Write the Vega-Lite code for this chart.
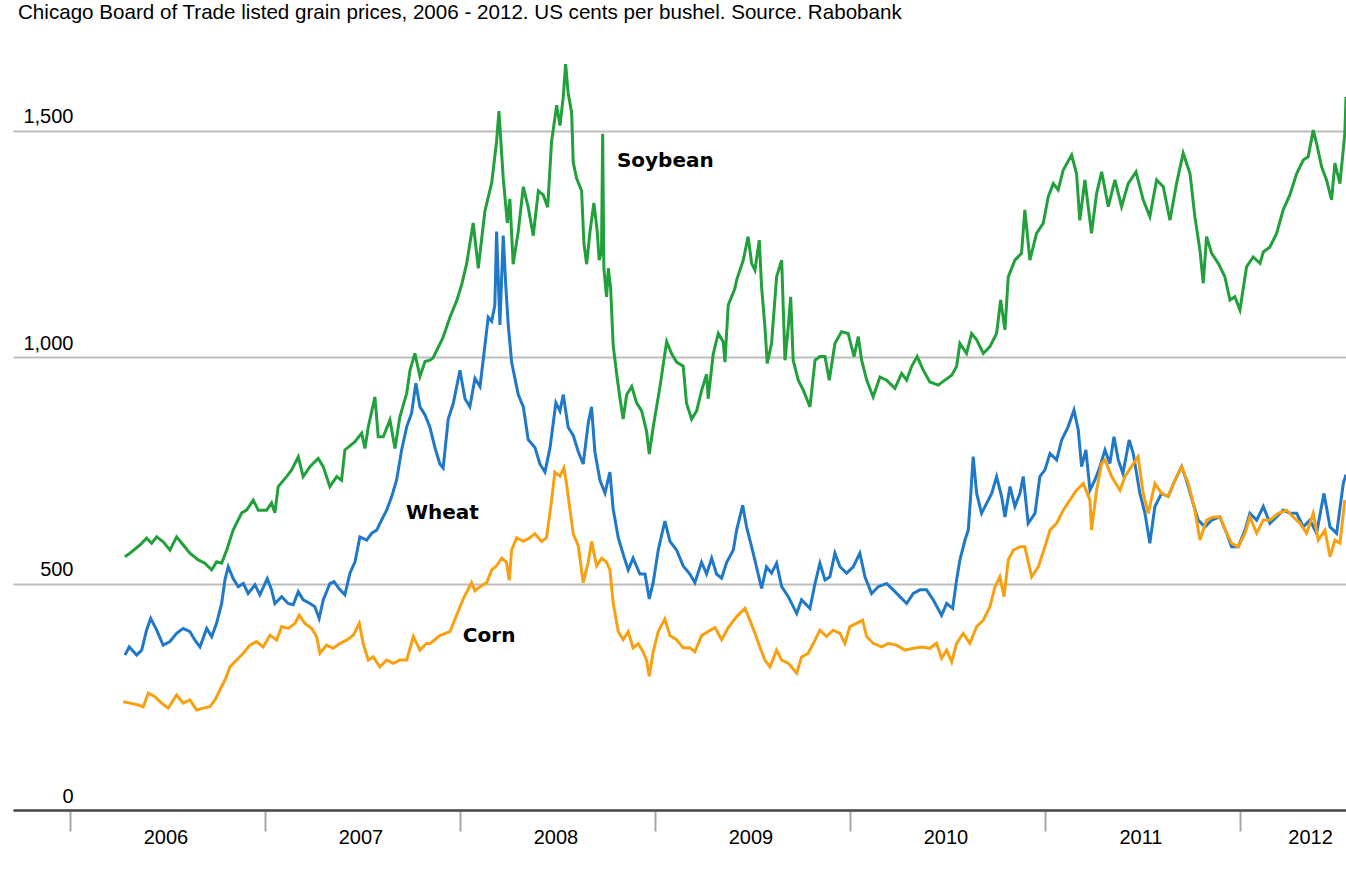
{
  "$schema": "https://vega.github.io/schema/vega-lite/v6.json",
  "width": 1333,
  "height": 770,
  "autosize": "none",
  "padding": {"left": 13, "top": 40, "right": 0, "bottom": 82},
  "background": "white",
  "config": {
    "view": {"stroke": null},
    "font": "Liberation Sans",
    "axis": {"labelFont": "Liberation Sans", "labelFontSize": 20, "labelColor": "#000000"}
  },
  "title": {
    "text": "Chicago Board of Trade listed grain prices, 2006 - 2012. US cents per bushel. Source. Rabobank",
    "anchor": "start",
    "frame": "group",
    "orient": "top",
    "offset": 0,
    "dx": 5,
    "baseline": "alphabetic",
    "font": "Liberation Sans",
    "fontSize": 20.6,
    "fontWeight": "normal",
    "color": "#000000"
  },
  "datasets": {
    "grain": [
      {"s":"Soybean","t":2006.282,"v":559},{"s":"Soybean","t":2006.308,"v":567},{"s":"Soybean","t":2006.359,"v":585},{"s":"Soybean","t":2006.393,"v":600},{"s":"Soybean","t":2006.419,"v":589},{"s":"Soybean","t":2006.445,"v":603},{"s":"Soybean","t":2006.478,"v":592},{"s":"Soybean","t":2006.513,"v":574},{"s":"Soybean","t":2006.547,"v":603},{"s":"Soybean","t":2006.581,"v":585},{"s":"Soybean","t":2006.615,"v":567},{"s":"Soybean","t":2006.658,"v":552},{"s":"Soybean","t":2006.692,"v":545},{"s":"Soybean","t":2006.727,"v":530},{"s":"Soybean","t":2006.752,"v":548},{"s":"Soybean","t":2006.778,"v":545},{"s":"Soybean","t":2006.804,"v":574},{"s":"Soybean","t":2006.837,"v":618},{"s":"Soybean","t":2006.881,"v":656},{"s":"Soybean","t":2006.906,"v":662},{"s":"Soybean","t":2006.94,"v":684},{"s":"Soybean","t":2006.966,"v":662},{"s":"Soybean","t":2007.009,"v":662},{"s":"Soybean","t":2007.034,"v":678},{"s":"Soybean","t":2007.051,"v":656},{"s":"Soybean","t":2007.068,"v":714},{"s":"Soybean","t":2007.111,"v":736},{"s":"Soybean","t":2007.137,"v":751},{"s":"Soybean","t":2007.171,"v":780},{"s":"Soybean","t":2007.196,"v":736},{"s":"Soybean","t":2007.231,"v":758},{"s":"Soybean","t":2007.273,"v":776},{"s":"Soybean","t":2007.299,"v":758},{"s":"Soybean","t":2007.333,"v":714},{"s":"Soybean","t":2007.368,"v":736},{"s":"Soybean","t":2007.393,"v":728},{"s":"Soybean","t":2007.41,"v":795},{"s":"Soybean","t":2007.462,"v":813},{"s":"Soybean","t":2007.496,"v":832},{"s":"Soybean","t":2007.513,"v":798},{"s":"Soybean","t":2007.53,"v":846},{"s":"Soybean","t":2007.564,"v":912},{"s":"Soybean","t":2007.581,"v":824},{"s":"Soybean","t":2007.607,"v":824},{"s":"Soybean","t":2007.641,"v":861},{"s":"Soybean","t":2007.667,"v":798},{"s":"Soybean","t":2007.692,"v":868},{"s":"Soybean","t":2007.727,"v":920},{"s":"Soybean","t":2007.744,"v":971},{"s":"Soybean","t":2007.769,"v":1008},{"s":"Soybean","t":2007.795,"v":957},{"s":"Soybean","t":2007.821,"v":990},{"s":"Soybean","t":2007.846,"v":993},{"s":"Soybean","t":2007.862,"v":998},{"s":"Soybean","t":2007.913,"v":1043},{"s":"Soybean","t":2007.949,"v":1088},{"s":"Soybean","t":2007.983,"v":1124},{"s":"Soybean","t":2008.009,"v":1160},{"s":"Soybean","t":2008.034,"v":1205},{"s":"Soybean","t":2008.068,"v":1296},{"s":"Soybean","t":2008.094,"v":1196},{"s":"Soybean","t":2008.111,"v":1259},{"s":"Soybean","t":2008.128,"v":1322},{"s":"Soybean","t":2008.163,"v":1385},{"s":"Soybean","t":2008.188,"v":1476},{"s":"Soybean","t":2008.2,"v":1543},{"s":"Soybean","t":2008.222,"v":1395},{"s":"Soybean","t":2008.243,"v":1296},{"s":"Soybean","t":2008.256,"v":1349},{"s":"Soybean","t":2008.273,"v":1205},{"s":"Soybean","t":2008.299,"v":1277},{"s":"Soybean","t":2008.325,"v":1376},{"s":"Soybean","t":2008.35,"v":1331},{"s":"Soybean","t":2008.376,"v":1268},{"s":"Soybean","t":2008.402,"v":1367},{"s":"Soybean","t":2008.427,"v":1358},{"s":"Soybean","t":2008.45,"v":1331},{"s":"Soybean","t":2008.47,"v":1476},{"s":"Soybean","t":2008.496,"v":1556},{"s":"Soybean","t":2008.513,"v":1511},{"s":"Soybean","t":2008.53,"v":1575},{"s":"Soybean","t":2008.542,"v":1647},{"s":"Soybean","t":2008.555,"v":1583},{"s":"Soybean","t":2008.573,"v":1539},{"s":"Soybean","t":2008.581,"v":1430},{"s":"Soybean","t":2008.598,"v":1395},{"s":"Soybean","t":2008.624,"v":1367},{"s":"Soybean","t":2008.636,"v":1250},{"s":"Soybean","t":2008.65,"v":1205},{"s":"Soybean","t":2008.667,"v":1277},{"s":"Soybean","t":2008.687,"v":1340},{"s":"Soybean","t":2008.704,"v":1278},{"s":"Soybean","t":2008.714,"v":1214},{"s":"Soybean","t":2008.726,"v":1232},{"s":"Soybean","t":2008.732,"v":1493},{"s":"Soybean","t":2008.738,"v":1196},{"s":"Soybean","t":2008.752,"v":1133},{"s":"Soybean","t":2008.761,"v":1196},{"s":"Soybean","t":2008.773,"v":1151},{"s":"Soybean","t":2008.786,"v":1025},{"s":"Soybean","t":2008.804,"v":962},{"s":"Soybean","t":2008.821,"v":908},{"s":"Soybean","t":2008.837,"v":863},{"s":"Soybean","t":2008.855,"v":917},{"s":"Soybean","t":2008.881,"v":935},{"s":"Soybean","t":2008.906,"v":899},{"s":"Soybean","t":2008.932,"v":881},{"s":"Soybean","t":2008.957,"v":836},{"s":"Soybean","t":2008.971,"v":786},{"s":"Soybean","t":2008.991,"v":845},{"s":"Soybean","t":2009.026,"v":935},{"s":"Soybean","t":2009.06,"v":1034},{"s":"Soybean","t":2009.086,"v":1007},{"s":"Soybean","t":2009.111,"v":989},{"s":"Soybean","t":2009.145,"v":980},{"s":"Soybean","t":2009.162,"v":898},{"s":"Soybean","t":2009.188,"v":863},{"s":"Soybean","t":2009.214,"v":881},{"s":"Soybean","t":2009.239,"v":926},{"s":"Soybean","t":2009.265,"v":962},{"s":"Soybean","t":2009.273,"v":908},{"s":"Soybean","t":2009.299,"v":1007},{"s":"Soybean","t":2009.325,"v":1052},{"s":"Soybean","t":2009.35,"v":1034},{"s":"Soybean","t":2009.359,"v":989},{"s":"Soybean","t":2009.376,"v":1115},{"s":"Soybean","t":2009.41,"v":1151},{"s":"Soybean","t":2009.419,"v":1170},{"s":"Soybean","t":2009.453,"v":1214},{"s":"Soybean","t":2009.478,"v":1266},{"s":"Soybean","t":2009.496,"v":1207},{"s":"Soybean","t":2009.513,"v":1192},{"s":"Soybean","t":2009.535,"v":1258},{"s":"Soybean","t":2009.547,"v":1155},{"s":"Soybean","t":2009.564,"v":1067},{"s":"Soybean","t":2009.576,"v":986},{"s":"Soybean","t":2009.598,"v":1030},{"s":"Soybean","t":2009.624,"v":1177},{"s":"Soybean","t":2009.65,"v":1214},{"s":"Soybean","t":2009.667,"v":993},{"s":"Soybean","t":2009.684,"v":1067},{"s":"Soybean","t":2009.696,"v":1133},{"s":"Soybean","t":2009.709,"v":993},{"s":"Soybean","t":2009.735,"v":949},{"s":"Soybean","t":2009.761,"v":927},{"s":"Soybean","t":2009.795,"v":890},{"s":"Soybean","t":2009.821,"v":993},{"s":"Soybean","t":2009.846,"v":1001},{"s":"Soybean","t":2009.872,"v":1001},{"s":"Soybean","t":2009.894,"v":949},{"s":"Soybean","t":2009.923,"v":1030},{"s":"Soybean","t":2009.957,"v":1056},{"s":"Soybean","t":2009.991,"v":1052},{"s":"Soybean","t":2010.021,"v":1001},{"s":"Soybean","t":2010.043,"v":1045},{"s":"Soybean","t":2010.06,"v":993},{"s":"Soybean","t":2010.086,"v":949},{"s":"Soybean","t":2010.119,"v":912},{"s":"Soybean","t":2010.154,"v":956},{"s":"Soybean","t":2010.188,"v":949},{"s":"Soybean","t":2010.231,"v":931},{"s":"Soybean","t":2010.265,"v":964},{"s":"Soybean","t":2010.291,"v":949},{"s":"Soybean","t":2010.316,"v":979},{"s":"Soybean","t":2010.345,"v":1001},{"s":"Soybean","t":2010.376,"v":971},{"s":"Soybean","t":2010.41,"v":945},{"s":"Soybean","t":2010.453,"v":938},{"s":"Soybean","t":2010.487,"v":949},{"s":"Soybean","t":2010.522,"v":960},{"s":"Soybean","t":2010.547,"v":979},{"s":"Soybean","t":2010.564,"v":1030},{"s":"Soybean","t":2010.598,"v":1008},{"s":"Soybean","t":2010.624,"v":1052},{"s":"Soybean","t":2010.65,"v":1038},{"s":"Soybean","t":2010.684,"v":1008},{"s":"Soybean","t":2010.718,"v":1023},{"s":"Soybean","t":2010.752,"v":1052},{"s":"Soybean","t":2010.773,"v":1126},{"s":"Soybean","t":2010.795,"v":1060},{"s":"Soybean","t":2010.812,"v":1177},{"s":"Soybean","t":2010.846,"v":1214},{"s":"Soybean","t":2010.88,"v":1229},{"s":"Soybean","t":2010.897,"v":1325},{"s":"Soybean","t":2010.923,"v":1214},{"s":"Soybean","t":2010.957,"v":1273},{"s":"Soybean","t":2010.991,"v":1295},{"s":"Soybean","t":2011.017,"v":1354},{"s":"Soybean","t":2011.043,"v":1383},{"s":"Soybean","t":2011.068,"v":1369},{"s":"Soybean","t":2011.094,"v":1413},{"s":"Soybean","t":2011.137,"v":1446},{"s":"Soybean","t":2011.162,"v":1405},{"s":"Soybean","t":2011.179,"v":1302},{"s":"Soybean","t":2011.205,"v":1391},{"s":"Soybean","t":2011.239,"v":1273},{"s":"Soybean","t":2011.265,"v":1361},{"s":"Soybean","t":2011.291,"v":1409},{"s":"Soybean","t":2011.325,"v":1332},{"s":"Soybean","t":2011.359,"v":1391},{"s":"Soybean","t":2011.393,"v":1332},{"s":"Soybean","t":2011.427,"v":1383},{"s":"Soybean","t":2011.467,"v":1409},{"s":"Soybean","t":2011.504,"v":1347},{"s":"Soybean","t":2011.538,"v":1310},{"s":"Soybean","t":2011.573,"v":1391},{"s":"Soybean","t":2011.607,"v":1376},{"s":"Soybean","t":2011.641,"v":1302},{"s":"Soybean","t":2011.675,"v":1383},{"s":"Soybean","t":2011.709,"v":1450},{"s":"Soybean","t":2011.744,"v":1405},{"s":"Soybean","t":2011.769,"v":1310},{"s":"Soybean","t":2011.795,"v":1236},{"s":"Soybean","t":2011.812,"v":1163},{"s":"Soybean","t":2011.829,"v":1266},{"s":"Soybean","t":2011.855,"v":1229},{"s":"Soybean","t":2011.889,"v":1207},{"s":"Soybean","t":2011.923,"v":1177},{"s":"Soybean","t":2011.949,"v":1126},{"s":"Soybean","t":2011.974,"v":1133},{"s":"Soybean","t":2012.0,"v":1104},{"s":"Soybean","t":2012.034,"v":1199},{"s":"Soybean","t":2012.068,"v":1221},{"s":"Soybean","t":2012.103,"v":1207},{"s":"Soybean","t":2012.12,"v":1232},{"s":"Soybean","t":2012.154,"v":1243},{"s":"Soybean","t":2012.188,"v":1273},{"s":"Soybean","t":2012.222,"v":1325},{"s":"Soybean","t":2012.256,"v":1358},{"s":"Soybean","t":2012.291,"v":1405},{"s":"Soybean","t":2012.325,"v":1435},{"s":"Soybean","t":2012.35,"v":1442},{"s":"Soybean","t":2012.376,"v":1501},{"s":"Soybean","t":2012.393,"v":1472},{"s":"Soybean","t":2012.419,"v":1420},{"s":"Soybean","t":2012.444,"v":1391},{"s":"Soybean","t":2012.47,"v":1347},{"s":"Soybean","t":2012.487,"v":1428},{"s":"Soybean","t":2012.513,"v":1383},{"s":"Soybean","t":2012.538,"v":1494},{"s":"Soybean","t":2012.544,"v":1574},
      {"s":"Wheat","t":2006.282,"v":342},{"s":"Wheat","t":2006.304,"v":360},{"s":"Wheat","t":2006.342,"v":342},{"s":"Wheat","t":2006.368,"v":353},{"s":"Wheat","t":2006.393,"v":397},{"s":"Wheat","t":2006.414,"v":423},{"s":"Wheat","t":2006.445,"v":397},{"s":"Wheat","t":2006.478,"v":364},{"s":"Wheat","t":2006.513,"v":372},{"s":"Wheat","t":2006.547,"v":390},{"s":"Wheat","t":2006.581,"v":401},{"s":"Wheat","t":2006.615,"v":394},{"s":"Wheat","t":2006.641,"v":375},{"s":"Wheat","t":2006.667,"v":360},{"s":"Wheat","t":2006.701,"v":401},{"s":"Wheat","t":2006.727,"v":383},{"s":"Wheat","t":2006.752,"v":412},{"s":"Wheat","t":2006.778,"v":456},{"s":"Wheat","t":2006.795,"v":508},{"s":"Wheat","t":2006.812,"v":537},{"s":"Wheat","t":2006.837,"v":511},{"s":"Wheat","t":2006.863,"v":493},{"s":"Wheat","t":2006.889,"v":500},{"s":"Wheat","t":2006.914,"v":478},{"s":"Wheat","t":2006.949,"v":497},{"s":"Wheat","t":2006.974,"v":475},{"s":"Wheat","t":2007.012,"v":511},{"s":"Wheat","t":2007.034,"v":486},{"s":"Wheat","t":2007.051,"v":456},{"s":"Wheat","t":2007.086,"v":471},{"s":"Wheat","t":2007.119,"v":456},{"s":"Wheat","t":2007.145,"v":453},{"s":"Wheat","t":2007.171,"v":482},{"s":"Wheat","t":2007.196,"v":464},{"s":"Wheat","t":2007.231,"v":456},{"s":"Wheat","t":2007.256,"v":449},{"s":"Wheat","t":2007.278,"v":423},{"s":"Wheat","t":2007.299,"v":464},{"s":"Wheat","t":2007.333,"v":500},{"s":"Wheat","t":2007.354,"v":504},{"s":"Wheat","t":2007.385,"v":486},{"s":"Wheat","t":2007.41,"v":475},{"s":"Wheat","t":2007.436,"v":523},{"s":"Wheat","t":2007.462,"v":548},{"s":"Wheat","t":2007.487,"v":603},{"s":"Wheat","t":2007.522,"v":596},{"s":"Wheat","t":2007.547,"v":611},{"s":"Wheat","t":2007.573,"v":618},{"s":"Wheat","t":2007.598,"v":640},{"s":"Wheat","t":2007.624,"v":662},{"s":"Wheat","t":2007.65,"v":692},{"s":"Wheat","t":2007.675,"v":728},{"s":"Wheat","t":2007.701,"v":795},{"s":"Wheat","t":2007.727,"v":846},{"s":"Wheat","t":2007.752,"v":876},{"s":"Wheat","t":2007.774,"v":942},{"s":"Wheat","t":2007.795,"v":890},{"s":"Wheat","t":2007.821,"v":872},{"s":"Wheat","t":2007.846,"v":845},{"s":"Wheat","t":2007.872,"v":800},{"s":"Wheat","t":2007.897,"v":764},{"s":"Wheat","t":2007.914,"v":755},{"s":"Wheat","t":2007.94,"v":863},{"s":"Wheat","t":2007.966,"v":898},{"s":"Wheat","t":2008.0,"v":971},{"s":"Wheat","t":2008.026,"v":908},{"s":"Wheat","t":2008.051,"v":890},{"s":"Wheat","t":2008.077,"v":953},{"s":"Wheat","t":2008.103,"v":935},{"s":"Wheat","t":2008.128,"v":1025},{"s":"Wheat","t":2008.145,"v":1088},{"s":"Wheat","t":2008.163,"v":1079},{"s":"Wheat","t":2008.179,"v":1115},{"s":"Wheat","t":2008.188,"v":1277},{"s":"Wheat","t":2008.205,"v":1071},{"s":"Wheat","t":2008.222,"v":1268},{"s":"Wheat","t":2008.236,"v":1151},{"s":"Wheat","t":2008.248,"v":1070},{"s":"Wheat","t":2008.265,"v":989},{"s":"Wheat","t":2008.282,"v":953},{"s":"Wheat","t":2008.299,"v":917},{"s":"Wheat","t":2008.325,"v":890},{"s":"Wheat","t":2008.35,"v":818},{"s":"Wheat","t":2008.385,"v":800},{"s":"Wheat","t":2008.41,"v":764},{"s":"Wheat","t":2008.436,"v":746},{"s":"Wheat","t":2008.462,"v":800},{"s":"Wheat","t":2008.492,"v":899},{"s":"Wheat","t":2008.513,"v":881},{"s":"Wheat","t":2008.53,"v":917},{"s":"Wheat","t":2008.555,"v":845},{"s":"Wheat","t":2008.581,"v":827},{"s":"Wheat","t":2008.607,"v":791},{"s":"Wheat","t":2008.632,"v":764},{"s":"Wheat","t":2008.658,"v":854},{"s":"Wheat","t":2008.675,"v":890},{"s":"Wheat","t":2008.692,"v":791},{"s":"Wheat","t":2008.718,"v":728},{"s":"Wheat","t":2008.744,"v":700},{"s":"Wheat","t":2008.769,"v":746},{"s":"Wheat","t":2008.786,"v":664},{"s":"Wheat","t":2008.812,"v":601},{"s":"Wheat","t":2008.837,"v":565},{"s":"Wheat","t":2008.863,"v":530},{"s":"Wheat","t":2008.888,"v":556},{"s":"Wheat","t":2008.923,"v":521},{"s":"Wheat","t":2008.949,"v":521},{"s":"Wheat","t":2008.971,"v":466},{"s":"Wheat","t":2008.991,"v":502},{"s":"Wheat","t":2009.017,"v":574},{"s":"Wheat","t":2009.051,"v":638},{"s":"Wheat","t":2009.077,"v":593},{"s":"Wheat","t":2009.111,"v":574},{"s":"Wheat","t":2009.145,"v":539},{"s":"Wheat","t":2009.179,"v":521},{"s":"Wheat","t":2009.205,"v":502},{"s":"Wheat","t":2009.239,"v":547},{"s":"Wheat","t":2009.265,"v":521},{"s":"Wheat","t":2009.291,"v":556},{"s":"Wheat","t":2009.316,"v":521},{"s":"Wheat","t":2009.342,"v":512},{"s":"Wheat","t":2009.368,"v":547},{"s":"Wheat","t":2009.402,"v":574},{"s":"Wheat","t":2009.419,"v":618},{"s":"Wheat","t":2009.45,"v":673},{"s":"Wheat","t":2009.47,"v":625},{"s":"Wheat","t":2009.504,"v":567},{"s":"Wheat","t":2009.547,"v":489},{"s":"Wheat","t":2009.572,"v":537},{"s":"Wheat","t":2009.598,"v":523},{"s":"Wheat","t":2009.624,"v":545},{"s":"Wheat","t":2009.65,"v":493},{"s":"Wheat","t":2009.684,"v":471},{"s":"Wheat","t":2009.727,"v":434},{"s":"Wheat","t":2009.752,"v":464},{"s":"Wheat","t":2009.795,"v":445},{"s":"Wheat","t":2009.821,"v":500},{"s":"Wheat","t":2009.846,"v":545},{"s":"Wheat","t":2009.872,"v":508},{"s":"Wheat","t":2009.897,"v":515},{"s":"Wheat","t":2009.923,"v":567},{"s":"Wheat","t":2009.949,"v":537},{"s":"Wheat","t":2009.983,"v":523},{"s":"Wheat","t":2010.017,"v":537},{"s":"Wheat","t":2010.051,"v":567},{"s":"Wheat","t":2010.077,"v":515},{"s":"Wheat","t":2010.111,"v":478},{"s":"Wheat","t":2010.145,"v":493},{"s":"Wheat","t":2010.188,"v":500},{"s":"Wheat","t":2010.222,"v":486},{"s":"Wheat","t":2010.256,"v":471},{"s":"Wheat","t":2010.291,"v":456},{"s":"Wheat","t":2010.325,"v":478},{"s":"Wheat","t":2010.359,"v":486},{"s":"Wheat","t":2010.393,"v":486},{"s":"Wheat","t":2010.427,"v":464},{"s":"Wheat","t":2010.47,"v":430},{"s":"Wheat","t":2010.496,"v":456},{"s":"Wheat","t":2010.527,"v":445},{"s":"Wheat","t":2010.547,"v":508},{"s":"Wheat","t":2010.564,"v":552},{"s":"Wheat","t":2010.59,"v":596},{"s":"Wheat","t":2010.607,"v":618},{"s":"Wheat","t":2010.619,"v":692},{"s":"Wheat","t":2010.632,"v":780},{"s":"Wheat","t":2010.65,"v":699},{"s":"Wheat","t":2010.675,"v":655},{"s":"Wheat","t":2010.701,"v":677},{"s":"Wheat","t":2010.727,"v":699},{"s":"Wheat","t":2010.752,"v":736},{"s":"Wheat","t":2010.778,"v":692},{"s":"Wheat","t":2010.795,"v":647},{"s":"Wheat","t":2010.821,"v":714},{"s":"Wheat","t":2010.846,"v":670},{"s":"Wheat","t":2010.872,"v":699},{"s":"Wheat","t":2010.889,"v":736},{"s":"Wheat","t":2010.914,"v":633},{"s":"Wheat","t":2010.949,"v":655},{"s":"Wheat","t":2010.974,"v":736},{"s":"Wheat","t":2011.0,"v":751},{"s":"Wheat","t":2011.026,"v":787},{"s":"Wheat","t":2011.06,"v":773},{"s":"Wheat","t":2011.086,"v":817},{"s":"Wheat","t":2011.119,"v":846},{"s":"Wheat","t":2011.149,"v":883},{"s":"Wheat","t":2011.171,"v":839},{"s":"Wheat","t":2011.188,"v":758},{"s":"Wheat","t":2011.21,"v":795},{"s":"Wheat","t":2011.231,"v":706},{"s":"Wheat","t":2011.256,"v":728},{"s":"Wheat","t":2011.282,"v":758},{"s":"Wheat","t":2011.308,"v":795},{"s":"Wheat","t":2011.333,"v":765},{"s":"Wheat","t":2011.354,"v":824},{"s":"Wheat","t":2011.376,"v":773},{"s":"Wheat","t":2011.4,"v":743},{"s":"Wheat","t":2011.432,"v":817},{"s":"Wheat","t":2011.453,"v":787},{"s":"Wheat","t":2011.487,"v":699},{"s":"Wheat","t":2011.513,"v":655},{"s":"Wheat","t":2011.538,"v":589},{"s":"Wheat","t":2011.564,"v":670},{"s":"Wheat","t":2011.598,"v":699},{"s":"Wheat","t":2011.632,"v":692},{"s":"Wheat","t":2011.667,"v":728},{"s":"Wheat","t":2011.701,"v":758},{"s":"Wheat","t":2011.726,"v":728},{"s":"Wheat","t":2011.76,"v":677},{"s":"Wheat","t":2011.786,"v":640},{"s":"Wheat","t":2011.821,"v":625},{"s":"Wheat","t":2011.855,"v":640},{"s":"Wheat","t":2011.897,"v":647},{"s":"Wheat","t":2011.932,"v":611},{"s":"Wheat","t":2011.957,"v":581},{"s":"Wheat","t":2011.991,"v":581},{"s":"Wheat","t":2012.026,"v":618},{"s":"Wheat","t":2012.051,"v":655},{"s":"Wheat","t":2012.086,"v":640},{"s":"Wheat","t":2012.12,"v":670},{"s":"Wheat","t":2012.154,"v":633},{"s":"Wheat","t":2012.188,"v":647},{"s":"Wheat","t":2012.222,"v":662},{"s":"Wheat","t":2012.256,"v":655},{"s":"Wheat","t":2012.291,"v":655},{"s":"Wheat","t":2012.325,"v":625},{"s":"Wheat","t":2012.359,"v":640},{"s":"Wheat","t":2012.393,"v":611},{"s":"Wheat","t":2012.431,"v":699},{"s":"Wheat","t":2012.462,"v":625},{"s":"Wheat","t":2012.496,"v":611},{"s":"Wheat","t":2012.53,"v":721},{"s":"Wheat","t":2012.544,"v":740},
      {"s":"Corn","t":2006.273,"v":239},{"s":"Corn","t":2006.308,"v":236},{"s":"Corn","t":2006.35,"v":232},{"s":"Corn","t":2006.376,"v":228},{"s":"Corn","t":2006.402,"v":258},{"s":"Corn","t":2006.436,"v":250},{"s":"Corn","t":2006.47,"v":236},{"s":"Corn","t":2006.504,"v":225},{"s":"Corn","t":2006.547,"v":254},{"s":"Corn","t":2006.581,"v":236},{"s":"Corn","t":2006.615,"v":243},{"s":"Corn","t":2006.65,"v":221},{"s":"Corn","t":2006.684,"v":225},{"s":"Corn","t":2006.718,"v":228},{"s":"Corn","t":2006.744,"v":243},{"s":"Corn","t":2006.769,"v":265},{"s":"Corn","t":2006.795,"v":287},{"s":"Corn","t":2006.821,"v":316},{"s":"Corn","t":2006.855,"v":331},{"s":"Corn","t":2006.889,"v":346},{"s":"Corn","t":2006.923,"v":364},{"s":"Corn","t":2006.957,"v":372},{"s":"Corn","t":2006.991,"v":360},{"s":"Corn","t":2007.026,"v":386},{"s":"Corn","t":2007.06,"v":375},{"s":"Corn","t":2007.086,"v":405},{"s":"Corn","t":2007.119,"v":401},{"s":"Corn","t":2007.154,"v":412},{"s":"Corn","t":2007.176,"v":430},{"s":"Corn","t":2007.205,"v":412},{"s":"Corn","t":2007.239,"v":401},{"s":"Corn","t":2007.265,"v":383},{"s":"Corn","t":2007.282,"v":346},{"s":"Corn","t":2007.316,"v":364},{"s":"Corn","t":2007.35,"v":357},{"s":"Corn","t":2007.385,"v":368},{"s":"Corn","t":2007.419,"v":375},{"s":"Corn","t":2007.453,"v":386},{"s":"Corn","t":2007.484,"v":412},{"s":"Corn","t":2007.504,"v":368},{"s":"Corn","t":2007.53,"v":331},{"s":"Corn","t":2007.555,"v":338},{"s":"Corn","t":2007.59,"v":316},{"s":"Corn","t":2007.624,"v":331},{"s":"Corn","t":2007.658,"v":324},{"s":"Corn","t":2007.692,"v":331},{"s":"Corn","t":2007.727,"v":331},{"s":"Corn","t":2007.761,"v":383},{"s":"Corn","t":2007.795,"v":353},{"s":"Corn","t":2007.829,"v":368},{"s":"Corn","t":2007.846,"v":367},{"s":"Corn","t":2007.897,"v":385},{"s":"Corn","t":2007.949,"v":394},{"s":"Corn","t":2007.983,"v":430},{"s":"Corn","t":2008.017,"v":466},{"s":"Corn","t":2008.06,"v":502},{"s":"Corn","t":2008.077,"v":484},{"s":"Corn","t":2008.103,"v":493},{"s":"Corn","t":2008.137,"v":502},{"s":"Corn","t":2008.163,"v":530},{"s":"Corn","t":2008.188,"v":539},{"s":"Corn","t":2008.214,"v":556},{"s":"Corn","t":2008.239,"v":547},{"s":"Corn","t":2008.253,"v":507},{"s":"Corn","t":2008.265,"v":574},{"s":"Corn","t":2008.291,"v":601},{"s":"Corn","t":2008.325,"v":593},{"s":"Corn","t":2008.359,"v":601},{"s":"Corn","t":2008.385,"v":610},{"s":"Corn","t":2008.419,"v":593},{"s":"Corn","t":2008.444,"v":601},{"s":"Corn","t":2008.47,"v":683},{"s":"Corn","t":2008.487,"v":746},{"s":"Corn","t":2008.513,"v":737},{"s":"Corn","t":2008.533,"v":755},{"s":"Corn","t":2008.547,"v":719},{"s":"Corn","t":2008.564,"v":664},{"s":"Corn","t":2008.581,"v":610},{"s":"Corn","t":2008.607,"v":583},{"s":"Corn","t":2008.632,"v":502},{"s":"Corn","t":2008.658,"v":547},{"s":"Corn","t":2008.675,"v":593},{"s":"Corn","t":2008.701,"v":539},{"s":"Corn","t":2008.727,"v":556},{"s":"Corn","t":2008.752,"v":547},{"s":"Corn","t":2008.769,"v":530},{"s":"Corn","t":2008.786,"v":457},{"s":"Corn","t":2008.812,"v":394},{"s":"Corn","t":2008.837,"v":376},{"s":"Corn","t":2008.863,"v":394},{"s":"Corn","t":2008.888,"v":358},{"s":"Corn","t":2008.914,"v":367},{"s":"Corn","t":2008.94,"v":349},{"s":"Corn","t":2008.957,"v":331},{"s":"Corn","t":2008.971,"v":295},{"s":"Corn","t":2008.991,"v":349},{"s":"Corn","t":2009.017,"v":394},{"s":"Corn","t":2009.051,"v":422},{"s":"Corn","t":2009.077,"v":385},{"s":"Corn","t":2009.111,"v":376},{"s":"Corn","t":2009.145,"v":358},{"s":"Corn","t":2009.179,"v":358},{"s":"Corn","t":2009.205,"v":349},{"s":"Corn","t":2009.239,"v":385},{"s":"Corn","t":2009.273,"v":394},{"s":"Corn","t":2009.308,"v":403},{"s":"Corn","t":2009.342,"v":376},{"s":"Corn","t":2009.376,"v":403},{"s":"Corn","t":2009.41,"v":422},{"s":"Corn","t":2009.419,"v":427},{"s":"Corn","t":2009.462,"v":445},{"s":"Corn","t":2009.487,"v":419},{"s":"Corn","t":2009.513,"v":390},{"s":"Corn","t":2009.538,"v":360},{"s":"Corn","t":2009.564,"v":331},{"s":"Corn","t":2009.59,"v":316},{"s":"Corn","t":2009.624,"v":353},{"s":"Corn","t":2009.65,"v":331},{"s":"Corn","t":2009.684,"v":324},{"s":"Corn","t":2009.727,"v":302},{"s":"Corn","t":2009.752,"v":338},{"s":"Corn","t":2009.786,"v":346},{"s":"Corn","t":2009.821,"v":375},{"s":"Corn","t":2009.846,"v":397},{"s":"Corn","t":2009.88,"v":383},{"s":"Corn","t":2009.914,"v":397},{"s":"Corn","t":2009.949,"v":390},{"s":"Corn","t":2009.974,"v":368},{"s":"Corn","t":2010.0,"v":405},{"s":"Corn","t":2010.034,"v":412},{"s":"Corn","t":2010.065,"v":419},{"s":"Corn","t":2010.086,"v":383},{"s":"Corn","t":2010.119,"v":368},{"s":"Corn","t":2010.163,"v":360},{"s":"Corn","t":2010.196,"v":368},{"s":"Corn","t":2010.239,"v":364},{"s":"Corn","t":2010.282,"v":353},{"s":"Corn","t":2010.325,"v":357},{"s":"Corn","t":2010.368,"v":360},{"s":"Corn","t":2010.41,"v":357},{"s":"Corn","t":2010.444,"v":368},{"s":"Corn","t":2010.47,"v":335},{"s":"Corn","t":2010.496,"v":353},{"s":"Corn","t":2010.522,"v":327},{"s":"Corn","t":2010.547,"v":368},{"s":"Corn","t":2010.581,"v":390},{"s":"Corn","t":2010.615,"v":368},{"s":"Corn","t":2010.65,"v":405},{"s":"Corn","t":2010.684,"v":419},{"s":"Corn","t":2010.718,"v":449},{"s":"Corn","t":2010.744,"v":493},{"s":"Corn","t":2010.769,"v":515},{"s":"Corn","t":2010.79,"v":471},{"s":"Corn","t":2010.812,"v":552},{"s":"Corn","t":2010.838,"v":574},{"s":"Corn","t":2010.872,"v":581},{"s":"Corn","t":2010.897,"v":581},{"s":"Corn","t":2010.932,"v":515},{"s":"Corn","t":2010.966,"v":537},{"s":"Corn","t":2011.0,"v":581},{"s":"Corn","t":2011.026,"v":618},{"s":"Corn","t":2011.06,"v":633},{"s":"Corn","t":2011.094,"v":662},{"s":"Corn","t":2011.128,"v":684},{"s":"Corn","t":2011.162,"v":706},{"s":"Corn","t":2011.197,"v":721},{"s":"Corn","t":2011.231,"v":684},{"s":"Corn","t":2011.239,"v":618},{"s":"Corn","t":2011.265,"v":706},{"s":"Corn","t":2011.291,"v":765},{"s":"Corn","t":2011.308,"v":773},{"s":"Corn","t":2011.342,"v":736},{"s":"Corn","t":2011.385,"v":706},{"s":"Corn","t":2011.41,"v":736},{"s":"Corn","t":2011.444,"v":758},{"s":"Corn","t":2011.478,"v":780},{"s":"Corn","t":2011.504,"v":699},{"s":"Corn","t":2011.53,"v":655},{"s":"Corn","t":2011.564,"v":721},{"s":"Corn","t":2011.598,"v":699},{"s":"Corn","t":2011.632,"v":692},{"s":"Corn","t":2011.667,"v":728},{"s":"Corn","t":2011.701,"v":758},{"s":"Corn","t":2011.735,"v":721},{"s":"Corn","t":2011.769,"v":662},{"s":"Corn","t":2011.795,"v":596},{"s":"Corn","t":2011.829,"v":640},{"s":"Corn","t":2011.863,"v":647},{"s":"Corn","t":2011.897,"v":647},{"s":"Corn","t":2011.932,"v":611},{"s":"Corn","t":2011.957,"v":589},{"s":"Corn","t":2011.991,"v":581},{"s":"Corn","t":2012.026,"v":611},{"s":"Corn","t":2012.051,"v":647},{"s":"Corn","t":2012.086,"v":611},{"s":"Corn","t":2012.12,"v":640},{"s":"Corn","t":2012.154,"v":640},{"s":"Corn","t":2012.197,"v":655},{"s":"Corn","t":2012.24,"v":662},{"s":"Corn","t":2012.273,"v":647},{"s":"Corn","t":2012.308,"v":633},{"s":"Corn","t":2012.342,"v":611},{"s":"Corn","t":2012.376,"v":655},{"s":"Corn","t":2012.402,"v":596},{"s":"Corn","t":2012.436,"v":618},{"s":"Corn","t":2012.462,"v":559},{"s":"Corn","t":2012.487,"v":596},{"s":"Corn","t":2012.513,"v":589},{"s":"Corn","t":2012.538,"v":684}
    ],
    "labels": [
      {"label": "Soybean", "t": 2008.805, "v": 1419},
      {"label": "Wheat", "t": 2007.723, "v": 642},
      {"label": "Corn", "t": 2008.015, "v": 371}
    ]
  },
  "resolve": {"axis": {"x": "independent"}},
  "layer": [
    {
      "data": {"name": "grain"},
      "mark": {"type": "line", "strokeWidth": 3, "clip": false},
      "encoding": {
        "x": {
          "field": "t", "type": "quantitative",
          "scale": {"domain": [2005.708, 2012.544], "nice": false, "zero": false},
          "axis": {
            "orient": "bottom", "title": null, "values": [2006, 2007, 2008, 2009, 2010, 2011, 2012],
            "labels": false, "grid": false,
            "domain": true, "domainColor": "#4a4a4a", "domainWidth": 2.5,
            "ticks": true, "tickSize": 21, "tickColor": "#a6a6a6", "tickWidth": 2
          }
        },
        "y": {
          "field": "v", "type": "quantitative",
          "scale": {"domain": [0, 1700], "nice": false, "zero": true},
          "axis": {
            "title": null, "values": [0, 500, 1000, 1500], "format": ",d",
            "domain": false, "ticks": false, "tickSize": 0,
            "grid": true, "gridColor": "#bdbdbd", "gridWidth": 2,
            "labelAlign": "right", "labelPadding": -60, "labelBaseline": "alphabetic",
            "labelOffset": -8, "labelFlush": false, "labelOverlap": false, "labelFontSize": 20
          }
        },
        "color": {
          "field": "s", "type": "nominal",
          "scale": {"domain": ["Soybean", "Wheat", "Corn"], "range": ["#22a03c", "#1f78c8", "#f7a012"]},
          "legend": null
        },
        "order": {"field": "t", "type": "quantitative"}
      }
    },
    {
      "data": {"name": "labels"},
      "mark": {"type": "text", "align": "left", "baseline": "alphabetic", "font": "DejaVu Sans", "fontWeight": "bold", "fontSize": 20, "color": "#000000"},
      "encoding": {
        "x": {
          "field": "t", "type": "quantitative",
          "axis": {
            "orient": "bottom", "title": null,
            "values": [2006.49, 2007.49, 2008.49, 2009.49, 2010.49, 2011.49, 2012.36],
            "labelExpr": "'' + floor(datum.value)",
            "ticks": false, "domain": false, "grid": false,
            "labelPadding": 17, "labelBaseline": "top", "labelFlush": false, "labelOverlap": false, "labelFontSize": 20
          }
        },
        "y": {"field": "v", "type": "quantitative", "title": null},
        "text": {"field": "label"}
      }
    }
  ]
}
